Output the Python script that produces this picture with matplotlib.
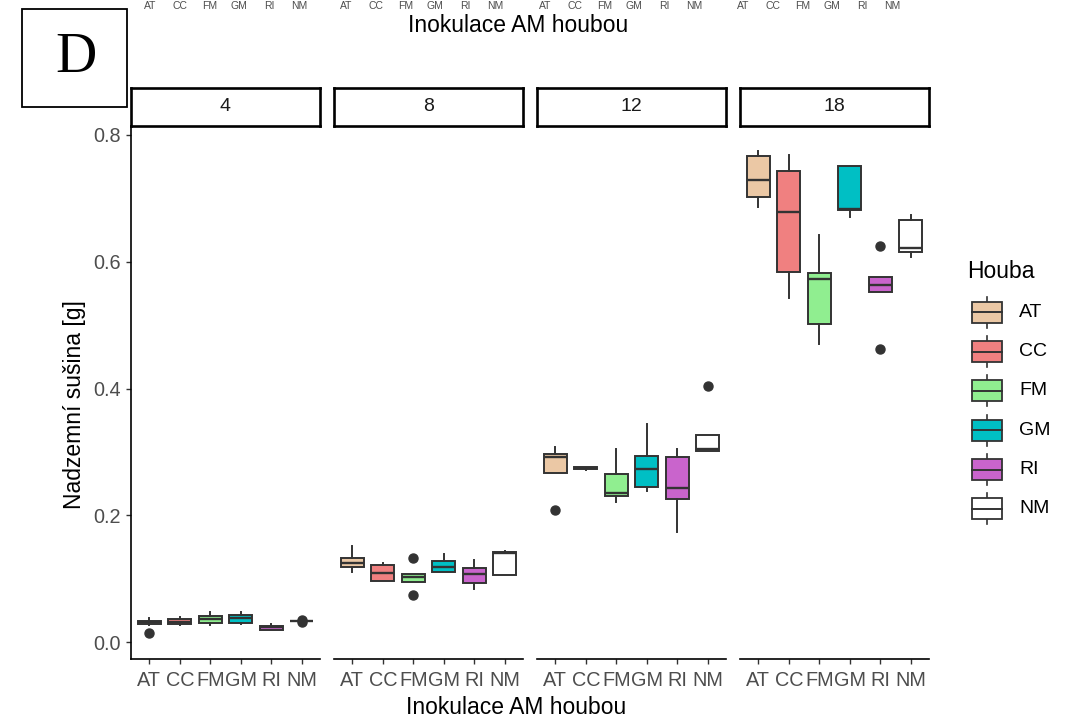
import matplotlib
matplotlib.use("Agg")
import matplotlib.pyplot as plt
from matplotlib.patches import Rectangle
from matplotlib.lines import Line2D

plt.rcParams['font.family'] = ['Liberation Sans', 'DejaVu Sans']

# ---------------- data ----------------
times = ['4', '8', '12', '18']
fungi = ['AT', 'CC', 'FM', 'GM', 'RI', 'NM']
fill_colors = ['#EBC8A5', '#F08080', '#90EE90', '#00BFC4', '#C964CC', '#FFFFFF']

# box statistics per harvest time (rows) and fungus (columns)
whisker_low = [
    [0.027, 0.027, 0.0268, 0.029, 0.019, 0.0325],
    [0.110, 0.097, 0.094, 0.110, 0.083, 0.1057],
    [0.266, 0.272, 0.2204, 0.2388, 0.174, 0.302],
    [0.686, 0.543, 0.470, 0.670, 0.552, 0.608],
]
q1 = [
    [0.028, 0.028, 0.0305, 0.030, 0.0194, 0.0328],
    [0.119, 0.097, 0.094, 0.110, 0.0926, 0.1057],
    [0.266, 0.2725, 0.2309, 0.245, 0.226, 0.302],
    [0.7027, 0.584, 0.501, 0.681, 0.552, 0.616],
]
median = [
    [0.031, 0.032, 0.0358, 0.0374, 0.0232, 0.0331],
    [0.125, 0.109, 0.103, 0.119, 0.107, 0.141],
    [0.2914, 0.274, 0.2356, 0.273, 0.243, 0.305],
    [0.729, 0.679, 0.573, 0.684, 0.564, 0.622],
]
q3 = [
    [0.0336, 0.0363, 0.0405, 0.0426, 0.0257, 0.0334],
    [0.132, 0.122, 0.108, 0.128, 0.116, 0.1415],
    [0.2967, 0.2755, 0.2646, 0.2935, 0.2914, 0.3266],
    [0.767, 0.743, 0.582, 0.751, 0.576, 0.666],
]
whisker_high = [
    [0.038, 0.0394, 0.048, 0.048, 0.0284, 0.0336],
    [0.152, 0.125, 0.108, 0.139, 0.130, 0.144],
    [0.308, 0.276, 0.305, 0.3435, 0.305, 0.3266],
    [0.775, 0.768, 0.642, 0.751, 0.576, 0.674],
]
outliers = [
    [[0.0147], [], [], [], [], [0.0355, 0.031]],
    [[], [], [0.1325, 0.0737], [], [], []],
    [[0.208], [], [], [], [], [0.4045]],
    [[], [], [], [], [0.625, 0.463], []],
]

y_ticks = [0.0, 0.2, 0.4, 0.6, 0.8]
y_label = 'Nadzemní sušina [g]'
x_label = 'Inokulace AM houbou'
legend_title = 'Houba'

# ---------------- layout ----------------
W, H = 1071, 722
fig = plt.figure(figsize=(W / 100, H / 100), dpi=100)
fig.patch.set_facecolor('white')

def fx(px):
    return px / W

def fy(py):
    return 1 - py / H

panel_lefts = [131, 334, 537, 740]
panel_w = 189
panel_top, panel_bottom = 126, 659
strip_top = 87.5
edge = '#333333'
tick_size = 14.3
positions = list(range(1, len(fungi) + 1))

for p, t in enumerate(times):
    ax = fig.add_axes([fx(panel_lefts[p]), fy(panel_bottom), panel_w / W,
                       (panel_bottom - panel_top) / H])
    stats = []
    for i in range(len(fungi)):
        stats.append(dict(med=median[p][i], q1=q1[p][i], q3=q3[p][i],
                          whislo=whisker_low[p][i], whishi=whisker_high[p][i],
                          fliers=outliers[p][i]))
    bp = ax.bxp(stats, positions=positions, widths=0.75, patch_artist=True,
                showcaps=False,
                boxprops=dict(edgecolor=edge, linewidth=1.4),
                whiskerprops=dict(color=edge, linewidth=1.4),
                medianprops=dict(color=edge, linewidth=1.7),
                flierprops=dict(marker='o', markerfacecolor=edge,
                                markeredgecolor=edge, markersize=6.5))
    for patch, c in zip(bp['boxes'], fill_colors):
        patch.set_facecolor(c)
    ax.set_xlim(0.4, len(fungi) + 0.6)
    ax.set_ylim(-0.0268, 0.8142)
    ax.set_xticks(positions)
    ax.set_xticklabels(fungi)
    for s in ['top', 'right']:
        ax.spines[s].set_visible(False)
    ax.spines['bottom'].set_linewidth(1.2)
    ax.spines['bottom'].set_color('black')
    ax.tick_params(axis='x', length=3.5, width=1, color=edge, labelsize=tick_size,
                   labelcolor='#4D4D4D', pad=5)
    if p == 0:
        ax.set_yticks(y_ticks)
        ax.set_yticklabels([f'{v:.1f}' for v in y_ticks])
        ax.spines['left'].set_linewidth(1.2)
        ax.spines['left'].set_color('black')
        ax.tick_params(axis='y', length=3.5, width=1, color=edge, labelsize=tick_size,
                       labelcolor='#4D4D4D', pad=4)
    else:
        ax.spines['left'].set_visible(False)
        ax.set_yticks([])
    ax.set_facecolor('none')

    # strip
    sax = fig.add_axes([fx(panel_lefts[p]), fy(panel_top), panel_w / W,
                        (panel_top - strip_top) / H])
    sax.set_xticks([])
    sax.set_yticks([])
    sax.set_facecolor('white')
    for s in sax.spines.values():
        s.set_linewidth(1.9)
        s.set_color('black')
    sax.text(0.5, 0.5, t, ha='center', va='center', fontsize=14,
             color='#1A1A1A', transform=sax.transAxes)

# overlay for annotations in pixel coordinates
ov = fig.add_axes([0, 0, 1, 1])
ov.set_xlim(0, W)
ov.set_ylim(H, 0)
ov.axis('off')
ov.patch.set_alpha(0)

# axis titles
ov.text(75, 405, y_label, rotation=90, ha='center', va='center', fontsize=16.5,
        color='black')
ov.text(516, 707, x_label, ha='center', va='center', fontsize=16.5, color='black')

# remnants of the panel above (cropped in the original)
ov.text(518, 26, x_label, ha='center', va='center', fontsize=16.5, color='black')
top_group_starts = [150, 346, 545, 743]
for g in top_group_starts:
    for i, f in enumerate(fungi):
        ov.text(g + i * 29.8, 0.8, f, ha='center', va='top', fontsize=7.5,
                color='#4D4D4D')

# panel letter
ov.add_patch(Rectangle((22, 9), 105, 98, facecolor='white', edgecolor='black',
                       linewidth=1.3))
ov.text(76, 58, 'D', ha='center', va='center', fontsize=41,
        family=['Liberation Serif', 'DejaVu Serif'], color='black')

# legend
ov.text(967, 271, legend_title, ha='left', va='center', fontsize=16.5,
        color='black')
for i, (f, c) in enumerate(zip(fungi, fill_colors)):
    cy = 312.3 + 39.3 * i
    ov.add_line(Line2D([987, 987], [cy - 15.5, cy + 15.5], color=edge, lw=1.2))
    ov.add_patch(Rectangle((972, cy - 10.5), 30, 21, facecolor=c, edgecolor=edge,
                           linewidth=1.3, zorder=3))
    ov.add_line(Line2D([972, 1002], [cy, cy], color=edge, lw=1.4, zorder=4))
    ov.text(1019, cy, f, ha='left', va='center', fontsize=14, color='black')

fig.savefig('out.png', dpi=100, facecolor='white')
